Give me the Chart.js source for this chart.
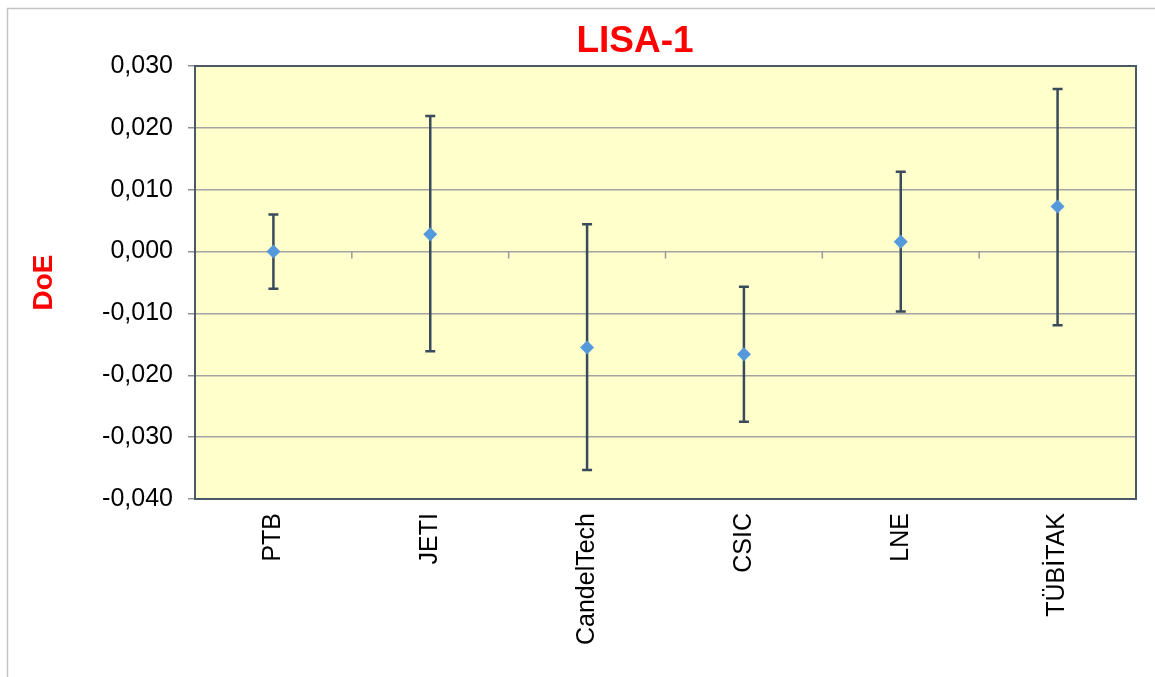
<!DOCTYPE html>
<html>
<head>
<meta charset="utf-8">
<script src="https://cdn.jsdelivr.net/npm/chart.js@4"></script>
<style>
html,body{margin:0;padding:0;background:#ffffff;}
canvas{display:block;}
</style>
</head>
<body>
<canvas id="c" width="1155" height="677"></canvas>
<script>
const chartTitle = 'LISA-1';
const yAxisTitle = 'DoE';
const categories = ['PTB', 'JETI', 'CandelTech', 'CSIC', 'LNE', 'TÜBİTAK'];
const doeValues = [0.0000, 0.0028, -0.0155, -0.0166, 0.0016, 0.0073];
const errorLow  = [-0.0060, -0.0161, -0.0353, -0.0275, -0.0097, -0.0119];
const errorHigh = [0.0060, 0.0219, 0.0044, -0.0057, 0.0129, 0.0263];
const yTicks = [-0.04, -0.03, -0.02, -0.01, 0.00, 0.01, 0.02, 0.03];

const FONT = '"Liberation Sans", Arial, sans-serif';

const decorPlugin = {
  id: 'decor',
  beforeDraw(chart) {
    const ctx = chart.ctx;
    const a = chart.chartArea;
    ctx.save();
    ctx.fillStyle = '#ffffff';
    ctx.fillRect(0, 0, chart.width, chart.height);
    // outer frame (top and left)
    ctx.strokeStyle = '#c4c4c4';
    ctx.lineWidth = 1.5;
    ctx.beginPath();
    ctx.moveTo(7.5, chart.height);
    ctx.lineTo(7.5, 8.5);
    ctx.lineTo(chart.width, 8.5);
    ctx.stroke();
    // plot area background
    ctx.fillStyle = '#ffffcc';
    ctx.fillRect(a.left, a.top, a.right - a.left, a.bottom - a.top);
    ctx.restore();
  },
  beforeDatasetsDraw(chart) {
    const ctx = chart.ctx;
    const a = chart.chartArea;
    const xs = chart.scales.x;
    const ys = chart.scales.y;
    ctx.save();
    // plot border
    ctx.strokeStyle = '#4b5866';
    ctx.lineWidth = 2;
    ctx.strokeRect(a.left, a.top, a.right - a.left, a.bottom - a.top);
    // category tick marks on the zero line
    const y0 = ys.getPixelForValue(0);
    ctx.strokeStyle = '#9a9a9a';
    ctx.lineWidth = 1.5;
    ctx.beginPath();
    for (let i = 0; i < categories.length - 1; i++) {
      const xb = (xs.getPixelForValue(i) + xs.getPixelForValue(i + 1)) / 2;
      ctx.moveTo(xb, y0);
      ctx.lineTo(xb, y0 + 7);
    }
    ctx.stroke();
    // error bars
    ctx.strokeStyle = '#3b4a5b';
    ctx.lineWidth = 2.5;
    ctx.beginPath();
    for (let i = 0; i < categories.length; i++) {
      const x = xs.getPixelForValue(i);
      const yl = ys.getPixelForValue(errorLow[i]);
      const yh = ys.getPixelForValue(errorHigh[i]);
      ctx.moveTo(x, yl); ctx.lineTo(x, yh);
      ctx.moveTo(x - 5, yl); ctx.lineTo(x + 5, yl);
      ctx.moveTo(x - 5, yh); ctx.lineTo(x + 5, yh);
    }
    ctx.stroke();
    ctx.restore();
  },
  afterDraw(chart) {
    const ctx = chart.ctx;
    ctx.save();
    ctx.fillStyle = '#ff0000';
    ctx.font = 'bold 37px ' + FONT;
    ctx.textAlign = 'center';
    ctx.textBaseline = 'alphabetic';
    ctx.fillText(chartTitle, 635, 52);
    ctx.restore();
  }
};

new Chart(document.getElementById('c'), {
  type: 'line',
  data: {
    labels: categories,
    datasets: [{
      label: yAxisTitle,
      data: doeValues,
      showLine: false,
      pointStyle: 'rectRot',
      pointRadius: 7,
      pointHoverRadius: 7,
      pointBackgroundColor: '#5599dd',
      pointBorderColor: '#5599dd',
      pointBorderWidth: 0
    }]
  },
  options: {
    responsive: false,
    animation: false,
    devicePixelRatio: 1,
    layout: { padding: { top: 66, right: 19, left: 0, bottom: 0 } },
    plugins: {
      legend: { display: false },
      title: { display: false },
      tooltip: { enabled: false }
    },
    scales: {
      x: {
        type: 'category',
        offset: true,
        afterFit: s => { s.height = 178; },
        grid: { display: false, drawTicks: false },
        border: { display: false },
        ticks: {
          autoSkip: false,
          maxRotation: 90,
          minRotation: 90,
          padding: 14,
          color: '#000000',
          font: { family: FONT, size: 25 }
        }
      },
      y: {
        min: -0.04,
        max: 0.03,
        afterFit: s => { s.width = 195; },
        afterBuildTicks: s => { s.ticks = yTicks.map(v => ({ value: v })); },
        grid: { color: '#a3a3a3', lineWidth: 1.5, tickLength: 7, tickColor: '#8f8f8f' },
        border: { display: false },
        ticks: {
          padding: 15,
          color: '#000000',
          font: { family: FONT, size: 25 },
          callback: v => Number(v).toFixed(3).replace('.', ',')
        },
        title: {
          display: true,
          text: yAxisTitle,
          color: '#ff0000',
          font: { family: FONT, size: 28, weight: 'bold' },
          padding: { top: 27, bottom: 0 }
        }
      }
    }
  },
  plugins: [decorPlugin]
});
</script>
</body>
</html>
